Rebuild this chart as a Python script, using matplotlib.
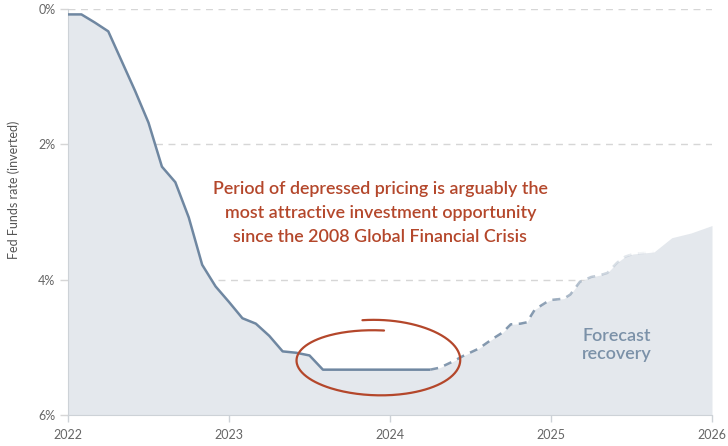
import numpy as np
import matplotlib
matplotlib.use("Agg")
import matplotlib.pyplot as plt
from matplotlib.patches import Rectangle

plt.rcParams['font.family'] = ['Lato', 'DejaVu Sans']

# ---- data ----
# Monthly effective Fed Funds rate, Jan 2022 .. Apr 2024 (x as decimal year)
actual_x = [2022 + i / 12 for i in range(28)]
actual_rate = [0.08, 0.08, 0.20, 0.33, 0.77, 1.21, 1.68, 2.33, 2.56, 3.08, 3.78, 4.10,
               4.33, 4.57, 4.65, 4.83, 5.06, 5.08, 5.12, 5.33, 5.33, 5.33, 5.33, 5.33,
               5.33, 5.33, 5.33, 5.33]

# Market-implied forecast path
forecast_x = [2024.25, 2024.31, 2024.39, 2024.46, 2024.55, 2024.64, 2024.70, 2024.75,
              2024.81, 2024.85, 2024.90, 2024.98, 2025.00, 2025.08, 2025.12, 2025.18,
              2025.25, 2025.31, 2025.35, 2025.41, 2025.46, 2025.51, 2025.60, 2025.64,
              2025.75, 2025.87, 2026.00]
forecast_rate = [5.33, 5.30, 5.21, 5.12, 5.02, 4.87, 4.78, 4.66, 4.65, 4.63, 4.44, 4.32,
                 4.30, 4.28, 4.22, 4.03, 3.96, 3.93, 3.90, 3.75, 3.66, 3.62, 3.60, 3.59,
                 3.38, 3.31, 3.20]

year_ticks = [2022, 2023, 2024, 2025, 2026]
rate_ticks = [0, 2, 4, 6]
rate_labels = ["0%", "2%", "4%", "6%"]

annotation = ("Period of depressed pricing is arguably the\n"
              "most attractive investment opportunity\n"
              "since the 2008 Global Financial Crisis")
forecast_label = "Forecast\nrecovery"

# ---- style ----
LINE = '#6f87a1'
FILL = '#e4e8ed'
RED = '#b4472b'
GRID = '#d6d6d6'
TXT = '#666666'

W, H = 728, 446
fig = plt.figure(figsize=(W / 100, H / 100), dpi=100)
ax = fig.add_axes([68 / W, (H - 415) / H, (712 - 68) / W, (415 - 9) / H])

ax.set_xlim(2022, 2026)
ax.set_ylim(6, 0)

all_x = actual_x + forecast_x[1:]
all_y = actual_rate + forecast_rate[1:]
ax.fill_between(all_x, all_y, 6, color=FILL, lw=0, zorder=1)

# gridlines
for r in rate_ticks[:-1]:
    ax.axhline(r, color=GRID, lw=1, ls=(0, (5, 4)), zorder=0.5)

ax.plot(actual_x, actual_rate, color=LINE, lw=1.8, zorder=3, solid_capstyle='butt')

# dashed forecast line, fading out to the right
fade_start, fade_end = 2024.88, 2025.64
edges = np.linspace(fade_start, fade_end, 25)
segs = [(2024.0, fade_start, 1.0)]
for a, b in zip(edges[:-1], edges[1:]):
    segs.append((a, b, 1 - ((a + b) / 2 - fade_start) / (fade_end - fade_start)))
for a, b, alpha in segs:
    ln, = ax.plot(forecast_x, forecast_rate, color=LINE, lw=1.8, ls=(0, (3.2, 2.6)),
                  alpha=0.85 * max(alpha, 0), zorder=3)
    ln.set_clip_path(Rectangle((a, -1), b - a, 8, transform=ax.transData))

# hand-drawn circle
cx, cy = 2023.92, 5.19
th = np.radians(np.linspace(-100, 275, 300))
rx = 0.525 - 0.005 * (th - th[0])
ry = 0.60 - 0.16 * (th - th[0]) / (th[-1] - th[0])
ax.plot(cx + rx * np.cos(th), cy + ry * np.sin(th), color=RED, lw=1.6, zorder=4,
        solid_capstyle='round')

ax.text(2023.94, 3.01, annotation, ha='center', va='center', color=RED,
        fontsize=12.9, fontweight='semibold', linespacing=1.62, zorder=5)
ax.text(2025.41, 4.96, forecast_label, ha='center', va='center', color='#7b91a8',
        fontsize=13, fontweight='semibold', linespacing=1.15, zorder=5)

# axes styling
for s in ['top', 'right']:
    ax.spines[s].set_visible(False)
ax.spines['left'].set_color('#cdd2d7')
ax.spines['bottom'].set_color('#cdd2d7')
ax.spines['left'].set_zorder(2)

ax.set_xticks(year_ticks)
ax.set_xticklabels([str(y) for y in year_ticks])
ax.set_yticks(rate_ticks)
ax.set_yticklabels(rate_labels)
ax.tick_params(axis='x', length=5, width=1, color='#cdd2d7', labelsize=9,
               labelcolor=TXT, pad=5)
ax.tick_params(axis='y', length=6, width=1, color=GRID, labelsize=9,
               labelcolor=TXT, pad=3)
ax.set_ylabel("Fed Funds rate (inverted)", fontsize=9, color='#555555')
ax.yaxis.set_label_coords(-0.074, 0.555)

fig.savefig('out.png', dpi=100)
